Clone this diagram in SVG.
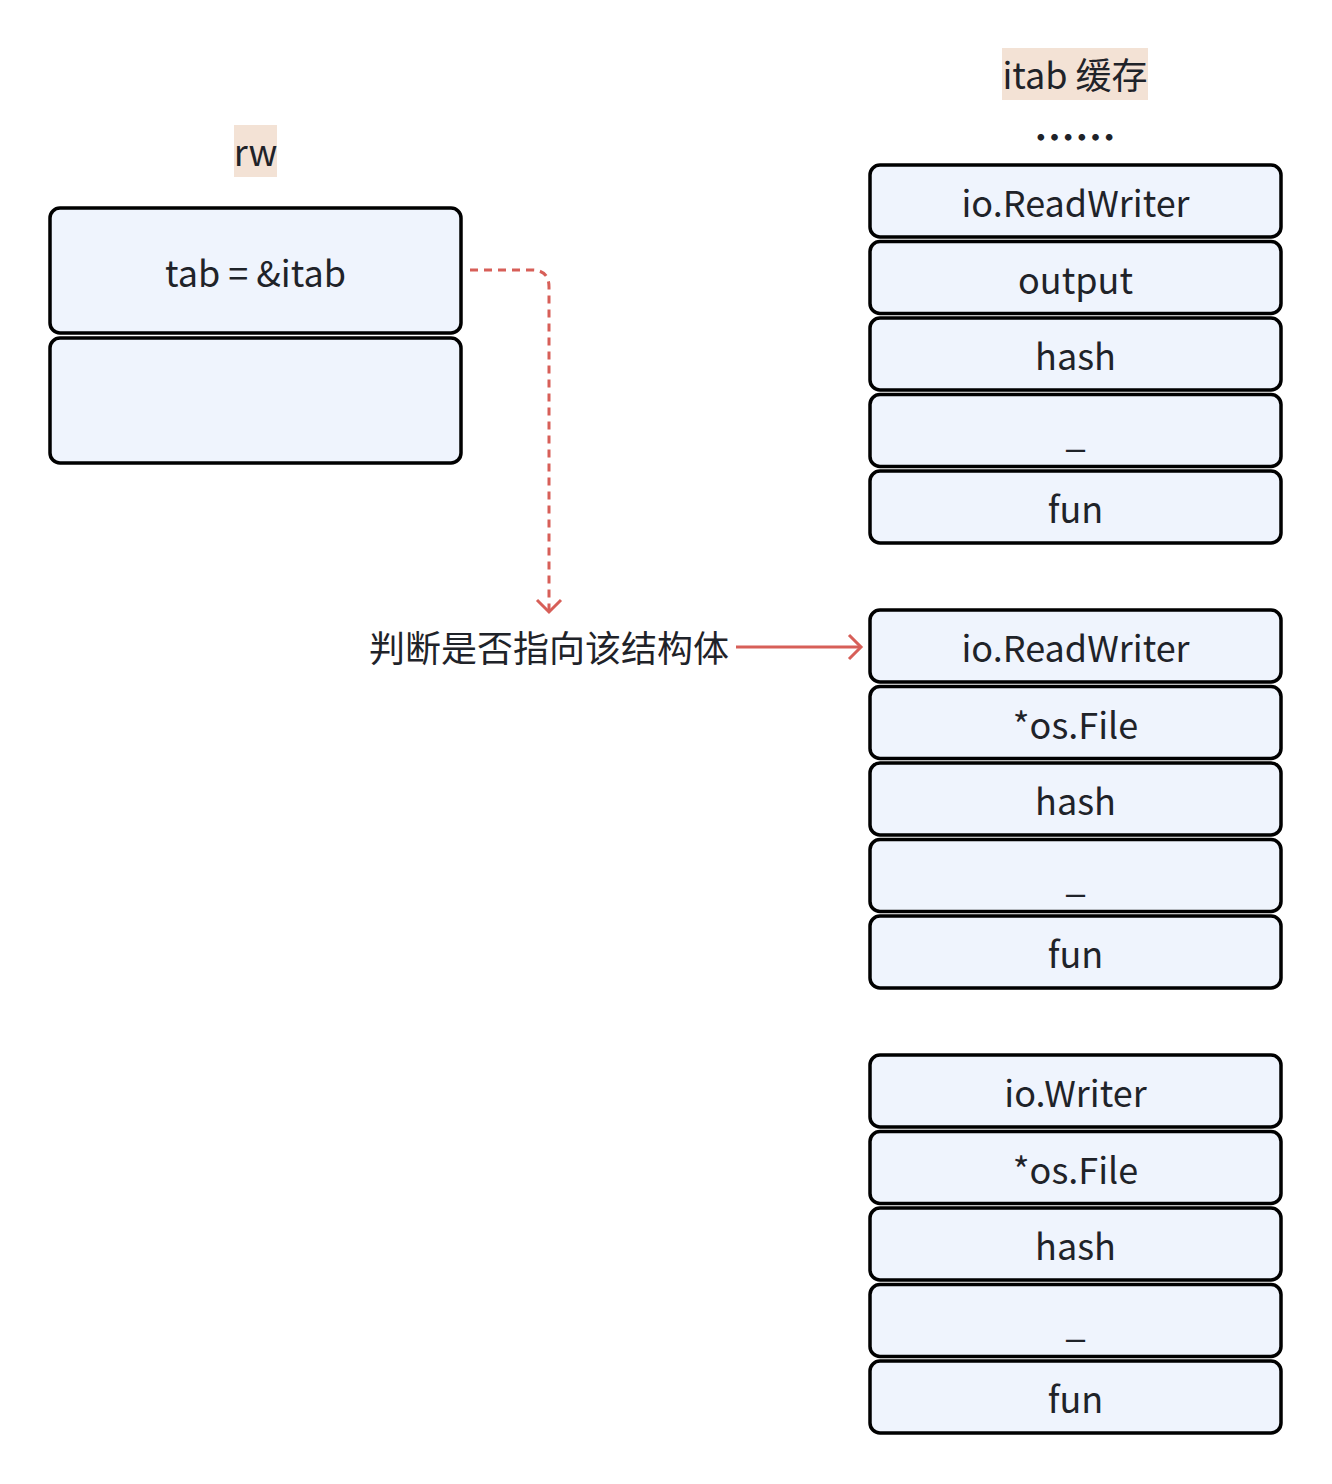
<svg xmlns="http://www.w3.org/2000/svg" width="1332" height="1484" viewBox="0 0 1332 1484">
<defs>
<style>
.box{fill:#eff4fd;stroke:#000;stroke-width:3.5}
.t{font-family:"Noto Sans CJK SC","Noto Sans",sans-serif;font-size:36px;fill:#1f2329;text-anchor:middle}
.hl{fill:#f3e2d5}
.conn{fill:none;stroke:#d75f58;stroke-width:3;stroke-linecap:butt}
</style>
</defs>
<rect width="1332" height="1484" fill="#fff"/>

<g id="label-rw">
<rect class="hl" x="234" y="125" width="43" height="52"/>
<text class="t" x="255.5" y="166">rw</text>
</g>
<g id="rw-tab">
<rect class="box" x="50" y="208" width="411" height="125" rx="10"/>
<text class="t" x="255.5" y="287">tab = &amp;itab</text>
</g>
<g id="rw-data">
<rect class="box" x="50" y="338" width="411" height="125" rx="10"/>
</g>

<g id="label-itab">
<rect class="hl" x="1002" y="48" width="146" height="52"/>
<text class="t" x="1075" y="89">itab 缓存</text>
</g>
<g id="label-dots">
<text class="t" x="1075" y="153" style="font-size:41px;font-weight:bold">……</text>
</g>

<g id="itab1">
<rect class="box" x="870" y="165" width="411" height="72" rx="10"/>
<text class="t" x="1075.5" y="217">io.ReadWriter</text>
<rect class="box" x="870" y="241.5" width="411" height="72" rx="10"/>
<text class="t" x="1075.5" y="293.5">output</text>
<rect class="box" x="870" y="318" width="411" height="72" rx="10"/>
<text class="t" x="1075.5" y="370">hash</text>
<rect class="box" x="870" y="394.5" width="411" height="72" rx="10"/>
<text class="t" x="1075.5" y="446.5">_</text>
<rect class="box" x="870" y="471" width="411" height="72" rx="10"/>
<text class="t" x="1075.5" y="523">fun</text>
</g>

<g id="itab2">
<rect class="box" x="870" y="610" width="411" height="72" rx="10"/>
<text class="t" x="1075.5" y="662">io.ReadWriter</text>
<rect class="box" x="870" y="686.5" width="411" height="72" rx="10"/>
<text class="t" x="1075.5" y="738.5">*os.File</text>
<rect class="box" x="870" y="763" width="411" height="72" rx="10"/>
<text class="t" x="1075.5" y="815">hash</text>
<rect class="box" x="870" y="839.5" width="411" height="72" rx="10"/>
<text class="t" x="1075.5" y="891.5">_</text>
<rect class="box" x="870" y="916" width="411" height="72" rx="10"/>
<text class="t" x="1075.5" y="968">fun</text>
</g>

<g id="itab3">
<rect class="box" x="870" y="1055" width="411" height="72" rx="10"/>
<text class="t" x="1075.5" y="1107">io.Writer</text>
<rect class="box" x="870" y="1131.5" width="411" height="72" rx="10"/>
<text class="t" x="1075.5" y="1183.5">*os.File</text>
<rect class="box" x="870" y="1208" width="411" height="72" rx="10"/>
<text class="t" x="1075.5" y="1260">hash</text>
<rect class="box" x="870" y="1284.5" width="411" height="72" rx="10"/>
<text class="t" x="1075.5" y="1336.5">_</text>
<rect class="box" x="870" y="1361" width="411" height="72" rx="10"/>
<text class="t" x="1075.5" y="1413">fun</text>
</g>

<g id="label-check">
<text class="t" x="549" y="662">判断是否指向该结构体</text>
</g>

<g id="connectors">
<path class="conn" d="M470,270 H532 Q549,270 549,287 V610" stroke-dasharray="8,6"/>
<path class="conn" d="M537,600 L549,612 L561,600"/>
<path class="conn" d="M736,647 H860"/>
<path class="conn" d="M849,635 L861,647 L849,659"/>
</g>
</svg>
